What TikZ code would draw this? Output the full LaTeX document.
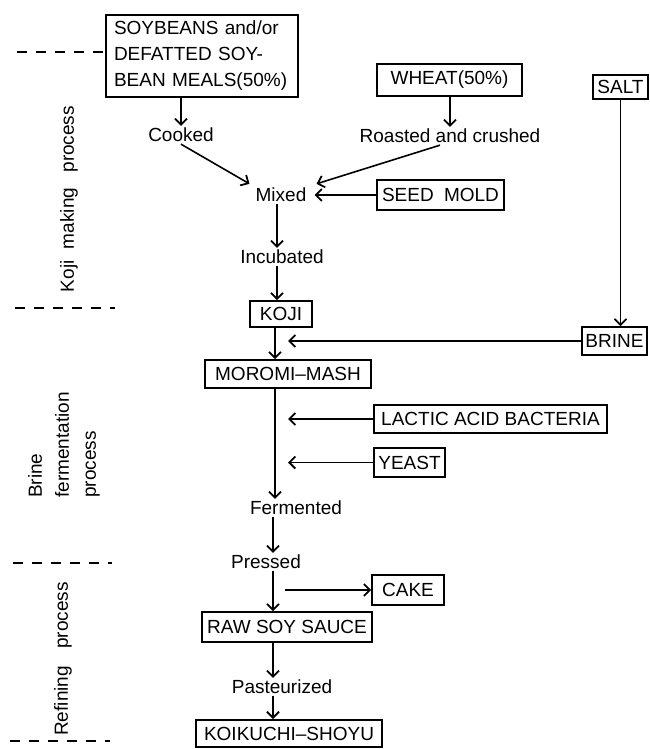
\documentclass[tikz,border=0pt]{standalone}
\usepackage{fontspec}
\setmainfont{Liberation Sans}
\usetikzlibrary{arrows.meta,calc}
\begin{document}
\begin{tikzpicture}[x=1pt,y=-1pt,
  every node/.style={font=\fontsize{19}{26}\selectfont, inner sep=2pt},
  box/.style={draw, line width=1.6pt, inner sep=0pt, align=center},
  arr/.style={line width=1.6pt, -{Straight Barb[length=6pt,width=12pt,line width=1.8pt]}},
  dashline/.style={line width=1.8pt, dash pattern=on 10pt off 9pt},
  side/.style={rotate=90, font=\fontsize{19}{27}\selectfont}]
\useasboundingbox (0,0) rectangle (650,749);

% boxes
\node[box, minimum height=82pt, text width=176pt, inner xsep=8pt, align=left, line width=2pt] (soy) at (202,56) {SOYBEANS and/or\\DEFATTED SOY-\\BEAN MEALS(50\%)};
\node[box, minimum width=145pt, minimum height=32pt, line width=2pt] (wheat) at (449.5,80) {WHEAT(50\%)};
\node[box, minimum width=55pt, minimum height=24pt, line width=2pt] (salt) at (620.5,87) {SALT};
\node[box, minimum width=127pt, minimum height=30pt] (seed) at (440.5,195) {SEED\hspace{5pt} MOLD};
\node[box, minimum width=62pt, minimum height=26pt] (koji) at (281,314) {KOJI};
\node[box, minimum width=65pt, minimum height=28pt] (brine) at (614.5,341) {BRINE};
\node[box, minimum width=166pt, minimum height=28pt] (moromi) at (288,374) {MOROMI--MASH};
\node[box, minimum width=233pt, minimum height=28pt] (lactic) at (490.5,419) {LACTIC ACID BACTERIA};
\node[box, minimum width=71pt, minimum height=29pt] (yeast) at (409.5,462.5) {YEAST};
\node[box, minimum width=72pt, minimum height=30pt] (cake) at (408,590) {CAKE};
\node[box, minimum width=170pt, minimum height=30pt] (raw) at (287,627) {RAW SOY SAUCE};
\node[box, minimum width=186pt, minimum height=27pt, line width=2pt] (koik) at (289,733.5) {KOIKUCHI--SHOYU};

% step texts
\node (cooked) at (181,135) {Cooked};
\node (roasted) at (450,136) {Roasted and crushed};
\node (mixed) at (281,195) {Mixed};
\node (incub) at (282,257) {Incubated};
\node (ferm) at (296,508) {Fermented};
\node (pressed) at (266,562) {Pressed};
\node (past) at (282,687) {Pasteurized};

% side labels
\node[side] (lkoji) at (69,199) {Koji\hspace{6pt} making\hspace{10pt} process};
\node[side, align=left, anchor=west] (lbrine) at (64,500) {Brine\\fermentation\\process};
\node[side] (lref) at (63,659) {Refining\hspace{12pt} process};

% helper coordinates
\coordinate (col) at (275,0);
\coordinate (tip) at (288,0);
\coordinate (d1) at (17,52);
\coordinate (d2a) at (15,308);
\coordinate (d2b) at (115,308);
\coordinate (d3a) at (13,563);
\coordinate (d3b) at (112,563);
\coordinate (d4a) at (10,741);
\coordinate (d4b) at (110,741);

% dashed separators
\draw[dashline] (d1) -- (soy.west |- d1);
\draw[dashline] (d2a) -- (d2b);
\draw[dashline] (d3a) -- (d3b);
\draw[dashline] (d4a) -- (d4b);

% connectors
\draw[arr] (soy.south -| cooked.north) -- (cooked.north);
\draw[arr] (wheat.south -| roasted.north) -- (roasted.north);
\draw[arr] (cooked.south) -- ($(mixed.north west)+(-4,-2)$);
\draw[arr] ($(roasted.south)+(-10,0)$) -- ($(mixed.north east)+(8,-2)$);
\draw[arr] (seed.west) -- ($(mixed.east)+(6,0)$);
\draw[arr] ($(mixed.south)+(-4,0)$) -- ($(incub.north)+(-5,0)$);
\draw[arr] ($(incub.south)+(-5,0)$) -- ($(koji.north)+(-4,0)$);
\draw[arr] (koji.south -| col) -- (moromi.north -| col);
\draw[arr] (brine.west) -- (brine.west -| tip);
\draw[arr] (salt.south) -- (salt.south |- brine.north);
\draw[arr] (moromi.south -| col) -- (ferm.north -| col);
\draw[arr] (lactic.west) -- (lactic.west -| tip);
\draw[arr] (yeast.west) -- (yeast.west -| tip);
\draw[arr] ($(ferm.south -| col)+(-2,0)$) -- ($(pressed.north -| col)+(-2,0)$);
\draw[arr] ($(pressed.south -| col)+(-2,0)$) -- ($(raw.north -| col)+(-2,0)$);
\draw[arr] ($(cake.west -| tip)+(-3,0)$) -- (cake.west);
\draw[arr] ($(raw.south -| col)+(-2,0)$) -- ($(past.north -| col)+(-2,0)$);
\draw[arr] ($(past.south -| col)+(-2,0)$) -- ($(koik.north -| col)+(-2,0)$);
\end{tikzpicture}
\end{document}
